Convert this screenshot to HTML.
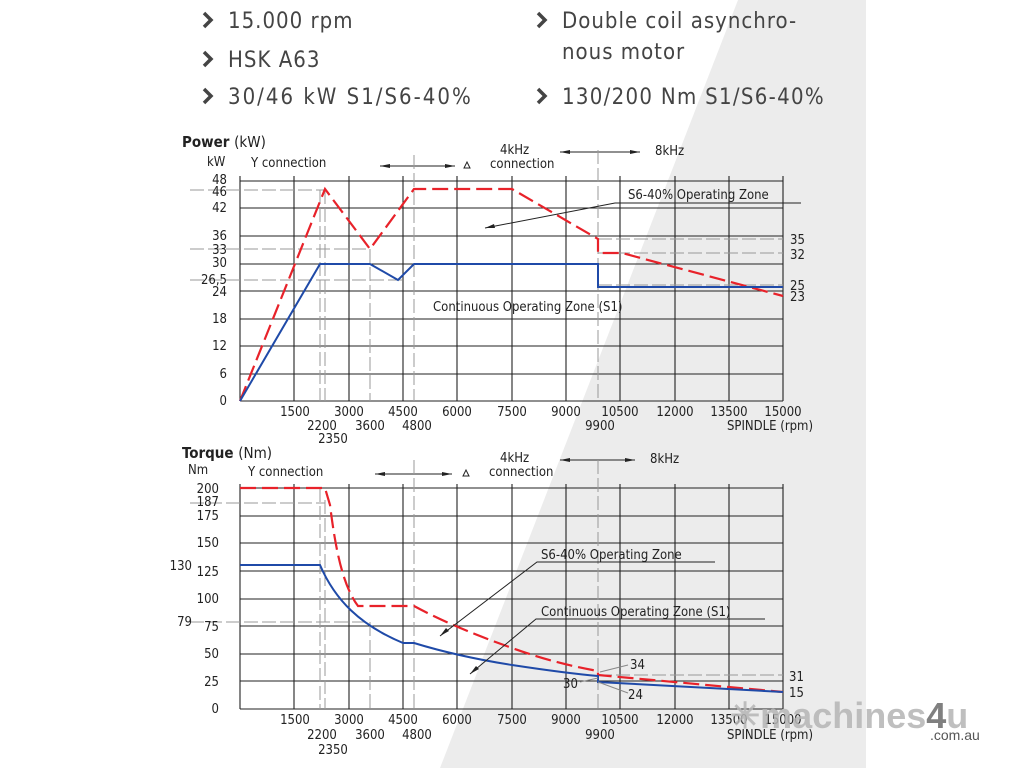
<!DOCTYPE html>
<html><head><meta charset="utf-8"><style>
html,body{margin:0;padding:0;background:#fff}
svg{display:block}
text{font-family:"DejaVu Sans Condensed","DejaVu Sans","Liberation Sans",sans-serif;fill:#222}
.t{font-size:13px}
.hd{font-size:22px;fill:#444;letter-spacing:1px}
</style></head><body>
<svg width="1024" height="768" viewBox="0 0 1024 768">
<polygon points="738,0 866,0 866,768 440,768" fill="#ececec"/>
<!-- header -->
<g stroke="#444" stroke-width="3.5" fill="none">
<polyline points="204,13 211,20 204,27"/><polyline points="204,52 211,59 204,66"/><polyline points="204,89 211,96 204,103"/>
<polyline points="538,13 545,20 538,27"/><polyline points="538,89 545,96 538,103"/>
</g>
<text x="228" y="28" class="hd">15.000 rpm</text>
<text x="228" y="67" class="hd">HSK A63</text>
<text x="228" y="104" class="hd" style="letter-spacing:2px">30/46 kW S1/S6-40%</text>
<text x="562" y="28" class="hd">Double coil asynchro-</text>
<text x="562" y="59" class="hd">nous motor</text>
<text x="562" y="104" class="hd" style="letter-spacing:1.3px">130/200 Nm  S1/S6-40%</text>

<!-- POWER -->
<text x="182" y="147" style="font-size:15px;font-weight:bold">Power <tspan style="font-weight:normal">(kW)</tspan></text>
<text x="207" y="166" class="t">kW</text>
<text x="251" y="167" class="t">Y connection</text>
<text x="500" y="154" class="t">4kHz</text>
<text x="490" y="168" class="t">connection</text>
<text x="655" y="155" class="t">8kHz</text>
<polygon points="470,168 464,168 467,162" fill="none" stroke="#222"/>
<g stroke="#222" stroke-width="1">
<line x1="380" y1="166" x2="455" y2="166"/><line x1="560" y1="152" x2="640" y2="152"/>
</g>
<polygon points="380,166 390,164 390,168" fill="#222"/><polygon points="455,166 445,164 445,168" fill="#222"/>
<polygon points="560,152 570,150 570,154" fill="#222"/><polygon points="640,152 630,150 630,154" fill="#222"/>
<g stroke="#222" stroke-width="1.1">
<line x1="240" y1="181" x2="783" y2="181"/><line x1="240" y1="208" x2="783" y2="208"/><line x1="240" y1="236" x2="783" y2="236"/>
<line x1="240" y1="264" x2="783" y2="264"/><line x1="240" y1="291" x2="783" y2="291"/><line x1="240" y1="319" x2="783" y2="319"/>
<line x1="240" y1="346" x2="783" y2="346"/><line x1="240" y1="374" x2="783" y2="374"/><line x1="240" y1="401" x2="783" y2="401"/>
<line x1="240" y1="176" x2="240" y2="401"/><line x1="294" y1="176" x2="294" y2="401"/><line x1="349" y1="176" x2="349" y2="401"/>
<line x1="403" y1="176" x2="403" y2="401"/><line x1="457" y1="176" x2="457" y2="401"/><line x1="512" y1="176" x2="512" y2="401"/>
<line x1="566" y1="176" x2="566" y2="401"/><line x1="620" y1="176" x2="620" y2="401"/><line x1="675" y1="176" x2="675" y2="401"/>
<line x1="729" y1="176" x2="729" y2="401"/><line x1="783" y1="176" x2="783" y2="401"/>
</g>
<g stroke="#999" stroke-width="1" stroke-dasharray="14,4" fill="none">
<line x1="190" y1="190" x2="325" y2="190"/><line x1="190" y1="249" x2="370" y2="249"/><line x1="190" y1="280" x2="403" y2="280"/>
<line x1="598" y1="239" x2="783" y2="239"/><line x1="598" y1="253" x2="783" y2="253"/><line x1="598" y1="285" x2="783" y2="285"/>
<line x1="320" y1="190" x2="320" y2="401"/><line x1="325" y1="190" x2="325" y2="401"/><line x1="370" y1="249" x2="370" y2="401"/>
<line x1="414" y1="155" x2="414" y2="401"/><line x1="598" y1="150" x2="598" y2="401"/>
</g>
<polyline points="240,401 325,189 370,249 414,189 512,189 598,239 598,253 622,253 783,296" fill="none" stroke="#e8222a" stroke-width="2.2" stroke-dasharray="16,6"/>
<polyline points="240,401 320,264 370,264 398,280 414,264 598,264 598,287 783,287" fill="none" stroke="#1f4aa8" stroke-width="2"/>
<g class="t" text-anchor="end">
<text x="227" y="184">48</text><text x="227" y="196">46</text><text x="227" y="212">42</text><text x="227" y="240">36</text>
<text x="227" y="254">33</text><text x="227" y="267">30</text><text x="227" y="284">26,5</text><text x="227" y="296">24</text>
<text x="227" y="323">18</text><text x="227" y="350">12</text><text x="227" y="378">6</text><text x="227" y="405">0</text>
</g>
<g class="t" text-anchor="middle">
<text x="295" y="416">1500</text><text x="349" y="416">3000</text><text x="403" y="416">4500</text><text x="457" y="416">6000</text>
<text x="512" y="416">7500</text><text x="566" y="416">9000</text><text x="620" y="416">10500</text><text x="675" y="416">12000</text>
<text x="729" y="416">13500</text><text x="783" y="416">15000</text>
<text x="322" y="430">2200</text><text x="333" y="443">2350</text><text x="370" y="430">3600</text><text x="417" y="430">4800</text><text x="600" y="430">9900</text>
<text x="770" y="430">SPINDLE (rpm)</text>
</g>
<g class="t"><text x="790" y="244">35</text><text x="790" y="259">32</text><text x="790" y="290">25</text><text x="790" y="301">23</text></g>
<text x="628" y="199" class="t">S6-40%  Operating Zone</text>
<polyline points="801,203 615,203 485,228" fill="none" stroke="#222" stroke-width="1"/>
<polygon points="485,228 494,224 495,228" fill="#222"/>
<text x="433" y="311" class="t">Continuous Operating Zone (S1)</text>

<!-- TORQUE -->
<text x="182" y="458" style="font-size:15px;font-weight:bold">Torque <tspan style="font-weight:normal">(Nm)</tspan></text>
<text x="188" y="474" class="t">Nm</text>
<text x="248" y="476" class="t">Y connection</text>
<text x="500" y="462" class="t">4kHz</text>
<text x="489" y="476" class="t">connection</text>
<text x="650" y="463" class="t">8kHz</text>
<polygon points="469,476 463,476 466,470" fill="none" stroke="#222"/>
<g stroke="#222" stroke-width="1"><line x1="375" y1="474" x2="452" y2="474"/><line x1="560" y1="460" x2="635" y2="460"/></g>
<polygon points="375,474 385,472 385,476" fill="#222"/><polygon points="452,474 442,472 442,476" fill="#222"/>
<polygon points="560,460 570,458 570,462" fill="#222"/><polygon points="635,460 625,458 625,462" fill="#222"/>
<g stroke="#222" stroke-width="1.1">
<line x1="240" y1="488" x2="783" y2="488"/><line x1="240" y1="516" x2="783" y2="516"/><line x1="240" y1="543" x2="783" y2="543"/>
<line x1="240" y1="571" x2="783" y2="571"/><line x1="240" y1="599" x2="783" y2="599"/><line x1="240" y1="626" x2="783" y2="626"/>
<line x1="240" y1="654" x2="783" y2="654"/><line x1="240" y1="681" x2="783" y2="681"/><line x1="240" y1="709" x2="783" y2="709"/>
<line x1="240" y1="484" x2="240" y2="709"/><line x1="294" y1="484" x2="294" y2="709"/><line x1="349" y1="484" x2="349" y2="709"/>
<line x1="403" y1="484" x2="403" y2="709"/><line x1="457" y1="484" x2="457" y2="709"/><line x1="512" y1="484" x2="512" y2="709"/>
<line x1="566" y1="484" x2="566" y2="709"/><line x1="620" y1="484" x2="620" y2="709"/><line x1="675" y1="484" x2="675" y2="709"/>
<line x1="729" y1="484" x2="729" y2="709"/><line x1="783" y1="484" x2="783" y2="709"/>
</g>
<g stroke="#999" stroke-width="1" stroke-dasharray="14,4" fill="none">
<line x1="190" y1="503" x2="325" y2="503"/><line x1="190" y1="622" x2="370" y2="622"/>
<line x1="598" y1="675" x2="783" y2="675"/>
<line x1="320" y1="488" x2="320" y2="709"/><line x1="325" y1="500" x2="325" y2="709"/><line x1="370" y1="622" x2="370" y2="709"/>
<line x1="414" y1="460" x2="414" y2="709"/><line x1="598" y1="460" x2="598" y2="709"/>
</g>
<path d="M240,488 L325,488 L330,505 C335,545 342,585 358,606 L414,606 C440,620 470,633 512,648 C545,660 575,667 598,671 L598,675 L783,692" fill="none" stroke="#e8222a" stroke-width="2.2" stroke-dasharray="16,6"/>
<path d="M240,565 L320,565 C335,600 360,625 403,643 L414,643 C450,654 480,660 512,665 C545,670 575,674 598,676 L598,682 L783,692" fill="none" stroke="#1f4aa8" stroke-width="2"/>
<g class="t" text-anchor="end">
<text x="219" y="493">200</text><text x="219" y="506">187</text><text x="219" y="520">175</text><text x="219" y="547">150</text>
<text x="219" y="576">125</text><text x="219" y="603">100</text><text x="219" y="631">75</text><text x="219" y="658">50</text>
<text x="219" y="686">25</text><text x="219" y="713">0</text>
<text x="192" y="570">130</text><text x="192" y="626">79</text>
</g>
<g class="t" text-anchor="middle">
<text x="295" y="724">1500</text><text x="349" y="724">3000</text><text x="403" y="724">4500</text><text x="457" y="724">6000</text>
<text x="512" y="724">7500</text><text x="566" y="724">9000</text><text x="620" y="724">10500</text><text x="675" y="724">12000</text>
<text x="729" y="724">13500</text><text x="783" y="724">15000</text>
<text x="322" y="739">2200</text><text x="333" y="754">2350</text><text x="370" y="739">3600</text><text x="417" y="739">4800</text><text x="600" y="739">9900</text>
<text x="770" y="739">SPINDLE (rpm)</text>
</g>
<g class="t"><text x="789" y="681">31</text><text x="789" y="697">15</text>
<text x="630" y="669">34</text><text x="563" y="688">30</text><text x="628" y="699">24</text></g>
<g stroke="#888" stroke-width="1"><line x1="600" y1="672" x2="628" y2="665"/><line x1="598" y1="682" x2="628" y2="693"/><line x1="580" y1="682" x2="598" y2="678"/></g>
<text x="541" y="559" class="t">S6-40%  Operating Zone</text>
<polyline points="715,562 537,562 440,636" fill="none" stroke="#222" stroke-width="1"/>
<polygon points="440,636 446,628 449,631" fill="#222"/>
<text x="541" y="616" class="t">Continuous Operating Zone (S1)</text>
<polyline points="765,619 536,619 470,674" fill="none" stroke="#222" stroke-width="1"/>
<polygon points="470,674 476,666 479,669" fill="#222"/>

<!-- watermark -->
<text x="730" y="728" style="font-family:'Liberation Sans',sans-serif;font-size:36px;font-weight:bold;fill:#b5b5b5;opacity:0.85">✳machines<tspan style="fill:#6a6a6a">4</tspan>u</text>
<text x="930" y="740" style="font-family:'Liberation Sans',sans-serif;font-size:14px;fill:#555">.com.au</text>
</svg>
</body></html>
